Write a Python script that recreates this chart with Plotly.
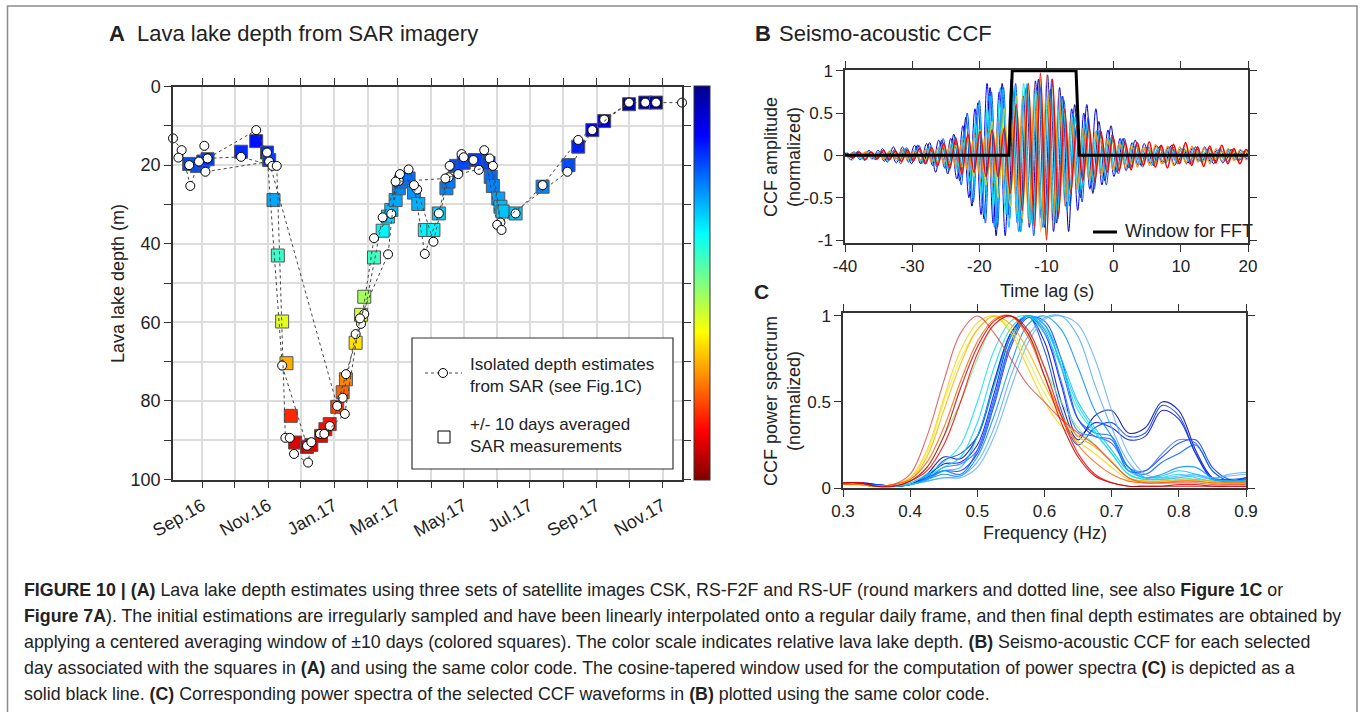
import numpy as np
import plotly.graph_objects as go

W, H = 1360, 712
def px(x): return x / W
def py(y): return 1 - y / H

FONT = "Liberation Sans, Arial, Helvetica, sans-serif"
INK = "#222222"
AX = "#333333"

# ---------------- Panel A data: SAR lava lake depth ----------------
csk_dates = ["2016-08-05","2016-08-13","2016-08-21","2016-09-03","2016-09-06","2016-10-21","2016-10-31",
             "2016-11-14","2016-12-07","2016-12-19","2016-12-28","2017-01-09","2017-01-21","2017-01-29",
             "2017-02-15","2017-03-02","2017-03-11","2017-03-19","2017-04-03","2017-04-17","2017-04-29",
             "2017-05-15","2017-05-25","2017-06-04","2017-06-18","2017-07-13","2017-08-15","2017-09-08",
             "2017-10-01","2017-10-16","2017-10-26","2017-11-19"]
csk_depth = [13.2,16.2,25.3,15.1,18.3,11.1,16.8,71.0,91.4,88.4,86.4,79.2,63.0,57.9,33.3,24.0,21.1,26.2,
             39.5,23.1,17.2,21.2,18.3,34.6,32.3,25.1,13.6,8.4,4.1,4.1,4.1,4.1]

f2f_dates = ["2016-08-10","2016-08-20","2016-08-29","2016-09-04","2016-11-02","2017-01-04","2017-01-12",
             "2017-01-26","2017-02-07","2017-02-23","2017-03-03","2017-03-16","2017-03-26","2017-04-08",
             "2017-04-18","2017-05-01","2017-05-10","2017-05-20","2017-06-01","2017-08-05","2017-08-28",
             "2017-10-01"]
f2f_depth = [18.1,20.0,19.1,21.7,19.1,81.3,73.2,60.4,38.6,32.4,22.3,25.1,42.6,32.3,20.2,18.0,18.7,16.2,
             35.2,21.7,11.1,4.1]

uf_dates = ["2016-09-06","2016-10-07","2016-11-05","2016-11-09","2016-11-17","2016-11-21","2016-11-25",
            "2016-12-08","2016-12-11","2016-12-23","2017-01-11","2017-01-25","2017-02-20","2017-02-27",
            "2017-04-14","2017-04-26","2017-05-28","2017-06-05"]
uf_depth = [18.3,17.9,20.2,20.2,89.4,89.4,93.5,95.7,90.5,88.4,83.3,59.0,42.7,24.2,23.4,22.3,20.2,36.5]

sq_dates = ["2016-08-20","2016-08-27","2016-09-02","2016-09-06","2016-10-07","2016-10-21","2016-10-31",
            "2016-11-02","2016-11-06","2016-11-10","2016-11-14","2016-11-18","2016-11-22","2016-11-26",
            "2016-12-07","2016-12-11","2016-12-20","2016-12-24","2016-12-28","2017-01-04","2017-01-09",
            "2017-01-12","2017-01-21","2017-01-26","2017-01-29","2017-02-07","2017-02-15","2017-02-20",
            "2017-02-23","2017-02-27","2017-03-02","2017-03-04","2017-03-11","2017-03-16","2017-03-20",
            "2017-03-26","2017-04-03","2017-04-08","2017-04-15","2017-04-17","2017-04-24","2017-05-01",
            "2017-05-11","2017-05-17","2017-05-24","2017-05-26","2017-05-28","2017-06-02","2017-06-04",
            "2017-06-06","2017-06-18","2017-07-13","2017-08-06","2017-08-15","2017-08-28","2017-09-08",
            "2017-10-01","2017-10-16","2017-10-26"]
sq_depth = [19.7,20.2,19.1,18.5,16.6,13.9,16.8,18.7,28.9,43.0,59.8,70.4,83.8,90.6,91.7,91.2,88.9,87.2,
            85.9,81.5,77.8,74.5,65.2,58.1,53.5,43.5,36.7,33.1,31.4,28.9,25.9,24.2,23.4,27.0,29.9,36.5,
            36.5,32.3,25.9,24.2,20.2,19.4,18.7,18.7,19.5,23.0,25.3,28.5,30.6,31.8,32.3,25.5,20.0,15.3,
            11.1,8.8,4.5,4.1,4.1]

month_ticks = ["2016-09-01","2016-10-01","2016-11-01","2016-12-01","2017-01-01","2017-02-01","2017-03-01",
               "2017-04-01","2017-05-01","2017-06-01","2017-07-01","2017-08-01","2017-09-01","2017-10-01",
               "2017-11-01"]
month_labels = ["Sep.16","","Nov.16","","Jan.17","","Mar.17","","May.17","","Jul.17","","Sep.17","","Nov.17"]
depth_ticks = [0,10,20,30,40,50,60,70,80,90,100]
depth_labels = ["0","","20","","40","","60","","80","","100"]

# ---------------- Panel B data: CCF waveforms (values at successive extrema) ----------------
ccf_lag = np.arange(-40.0, 20.4, 0.9)
ccf_darkblue = [0.03,-0.05,0.04,-0.03,0.06,-0.05,0.05,-0.08,0.1,-0.06,0.08,-0.1,0.12,-0.08,0.15,-0.2,0.18,-0.22,0.25,-0.3,
                0.45,-0.6,0.62,-0.75,0.8,-0.95,0.85,-0.7,0.75,-0.9,0.8,-0.7,0.9,-0.85,0.78,-0.8,0.7,-0.9,0.6,-0.5,
                0.6,-0.45,0.4,-0.3,0.35,-0.2,0.2,-0.15,0.18,-0.12,0.1,-0.12,0.1,-0.08,0.12,-0.1,0.08,-0.1,0.1,-0.08,
                0.06,-0.1,0.08,-0.05,0.07,-0.06,0.05,-0.04]
ccf_blue = [-0.02,0.04,-0.05,0.03,-0.04,0.06,-0.07,0.05,-0.09,0.1,-0.08,0.12,-0.1,0.14,-0.12,0.18,-0.15,0.2,-0.28,0.35,
            -0.5,0.55,-0.7,0.85,-0.8,0.75,-0.95,0.9,-0.8,0.7,-0.85,0.88,-0.75,0.95,-0.9,0.8,-0.6,0.55,-0.65,0.5,
            -0.4,0.55,-0.35,0.3,-0.25,0.2,-0.18,0.15,-0.12,0.14,-0.1,0.12,-0.09,0.1,-0.12,0.08,-0.1,0.09,-0.07,0.1,
            -0.08,0.06,-0.09,0.07,-0.05,0.06,-0.04,0.05]
ccf_midblue = [0.02,-0.03,0.05,-0.06,0.04,-0.05,0.08,-0.06,0.07,-0.1,0.09,-0.08,0.12,-0.1,0.1,-0.14,0.2,-0.18,0.22,-0.35,
               0.5,-0.55,0.65,-0.8,0.75,-0.85,0.8,-0.75,0.85,-0.8,0.7,-0.95,0.85,-0.7,0.9,-0.75,0.65,-0.6,0.5,-0.55,
               0.45,-0.4,0.3,-0.35,0.25,-0.22,0.2,-0.15,0.12,-0.14,0.1,-0.1,0.12,-0.08,0.1,-0.09,0.07,-0.1,0.08,-0.06,
               0.09,-0.07,0.06,-0.08,0.05,-0.06,0.04,-0.05]
ccf_lightblue = [-0.03,0.02,-0.04,0.05,-0.03,0.04,-0.06,0.05,-0.05,0.08,-0.07,0.06,-0.1,0.09,-0.12,0.1,-0.16,0.15,-0.2,0.28,
                 -0.42,0.48,-0.6,0.7,-0.85,0.8,-0.7,0.82,-0.9,0.75,-0.8,0.7,-0.85,0.75,-0.8,0.7,-0.65,0.5,-0.45,0.4,
                 -0.35,0.3,-0.28,0.22,-0.2,0.18,-0.15,0.12,-0.1,0.1,-0.12,0.08,-0.09,0.1,-0.07,0.08,-0.06,0.09,-0.07,0.05,
                 -0.08,0.06,-0.05,0.07,-0.04,0.05,-0.04,0.03]
ccf_sky = [0.04,-0.06,0.03,-0.05,0.05,-0.04,0.06,-0.07,0.05,-0.06,0.09,-0.07,0.08,-0.1,0.11,-0.12,0.14,-0.16,0.2,-0.25,
           0.35,-0.5,0.6,-0.72,0.7,-0.8,0.78,-0.85,0.8,-0.9,0.85,-0.8,0.75,-0.82,0.7,-0.65,0.55,-0.5,0.45,-0.4,
           0.35,-0.3,0.25,-0.22,0.2,-0.16,0.14,-0.12,0.13,-0.1,0.09,-0.11,0.08,-0.09,0.07,-0.1,0.08,-0.06,0.07,-0.08,
           0.05,-0.06,0.07,-0.05,0.06,-0.04,0.05,-0.03]
ccf_cyan = [-0.02,0.03,-0.04,0.02,-0.05,0.04,-0.03,0.05,-0.06,0.04,-0.05,0.07,-0.06,0.08,-0.07,0.1,-0.12,0.14,-0.16,0.2,
            -0.3,0.38,-0.45,0.55,-0.6,0.65,-0.7,0.75,-0.8,0.85,-0.8,0.78,-0.75,0.7,-0.72,0.6,-0.55,0.45,-0.4,0.35,
            -0.3,0.25,-0.22,0.2,-0.15,0.14,-0.12,0.1,-0.1,0.09,-0.08,0.1,-0.07,0.08,-0.06,0.07,-0.08,0.06,-0.05,0.07,
            -0.06,0.05,-0.04,0.06,-0.05,0.04,-0.03,0.04]
ccf_yellow = [0.02,-0.02,0.03,-0.03,0.02,-0.04,0.03,-0.03,0.04,-0.05,0.04,-0.05,0.06,-0.05,0.07,-0.08,0.1,-0.1,0.12,-0.14,
              0.2,-0.25,0.3,-0.35,0.4,-0.5,0.55,-0.6,0.7,-0.75,0.8,-0.85,0.9,-0.95,0.8,-0.65,0.5,-0.4,0.35,-0.3,
              0.28,-0.25,0.2,-0.18,0.15,-0.14,0.12,-0.1,0.1,-0.09,0.08,-0.1,0.09,-0.07,0.08,-0.06,0.07,-0.06,0.05,-0.07,
              0.06,-0.05,0.04,-0.05,0.04,-0.03,0.04,-0.03]
ccf_orange = [-0.02,0.03,-0.02,0.04,-0.03,0.03,-0.04,0.05,-0.04,0.06,-0.05,0.05,-0.06,0.07,-0.08,0.09,-0.1,0.12,-0.15,0.18,
              -0.22,0.25,-0.3,0.3,-0.35,0.4,-0.45,0.55,-0.65,0.7,-0.8,0.85,-0.9,0.95,-0.85,0.75,-0.6,0.45,-0.4,0.32,
              -0.3,0.28,-0.25,0.2,-0.18,0.15,-0.15,0.12,-0.14,0.1,-0.12,0.13,-0.1,0.11,-0.12,0.1,-0.09,0.11,-0.08,0.09,
              -0.1,0.08,-0.07,0.08,-0.06,0.07,-0.05,0.06]
ccf_red = [0.03,-0.03,0.04,-0.05,0.04,-0.04,0.06,-0.05,0.05,-0.07,0.06,-0.06,0.08,-0.1,0.09,-0.12,0.14,-0.15,0.2,-0.22,
           0.25,-0.2,0.28,-0.25,0.3,-0.25,0.32,-0.45,0.6,-0.65,0.85,-0.85,0.97,-1.0,0.9,-0.7,0.55,-0.45,0.35,-0.3,
           0.35,-0.3,0.28,-0.2,0.22,-0.18,0.15,-0.17,0.15,-0.12,0.16,-0.14,0.12,-0.15,0.13,-0.1,0.15,-0.12,0.1,-0.13,
           0.11,-0.09,0.12,-0.1,0.08,-0.1,0.07,-0.06]
ccf_series = [ccf_darkblue, ccf_blue, ccf_midblue, ccf_lightblue, ccf_sky, ccf_cyan, ccf_yellow, ccf_orange, ccf_red]
ccf_shift = [0.0, 0.45, 0.2, 0.65, 0.1, 0.5, 0.3, 0.35, 0.3]
ccf_colors = ["#0000a0", "#0000ff", "#0050ff", "#0096ff", "#00c8ff", "#20e8e8", "#e0d800", "#ff8c00", "#ff0000"]
ccf_widths = [1.0, 1.0, 1.0, 1.0, 1.0, 1.0, 1.0, 1.2, 1.6]

window_lag = [-40, -15.6, -15.1, -5.6, -5.1, 20]
window_val = [0, 0, 1, 1, 0, 0]
lag_ticks = [-40, -30, -20, -10, 0, 10, 20]
lag_labels = ["-40", "-30", "-20", "-10", "0", "10", "20"]

# ---------------- Panel C data: normalized power spectra ----------------
freq = [0.300,0.325,0.350,0.375,0.400,0.425,0.450,0.475,0.500,0.525,0.550,0.575,0.600,
        0.625,0.650,0.675,0.700,0.725,0.750,0.775,0.800,0.825,0.850,0.875,0.900]
spec_1 = [0.02,0.03,0.02,0.01,0.02,0.08,0.18,0.17,0.30,0.62,0.90,1.00,0.85,0.50,0.28,0.42,0.45,0.32,0.35,0.50,0.45,0.22,0.06,0.04,0.06]
spec_2 = [0.02,0.03,0.02,0.01,0.02,0.07,0.14,0.15,0.25,0.55,0.88,1.00,0.90,0.60,0.30,0.38,0.35,0.28,0.30,0.45,0.40,0.20,0.05,0.04,0.05]
spec_3 = [0.02,0.02,0.01,0.01,0.02,0.06,0.16,0.20,0.30,0.60,0.90,1.00,0.80,0.45,0.25,0.35,0.38,0.30,0.32,0.48,0.42,0.20,0.06,0.05,0.06]
spec_4 = [0.02,0.02,0.02,0.01,0.02,0.05,0.10,0.10,0.20,0.48,0.82,0.99,0.97,0.75,0.40,0.30,0.28,0.10,0.10,0.18,0.26,0.28,0.12,0.05,0.05]
spec_5 = [0.02,0.02,0.01,0.01,0.02,0.05,0.12,0.14,0.22,0.50,0.84,1.00,0.92,0.62,0.33,0.30,0.26,0.12,0.10,0.20,0.28,0.26,0.10,0.04,0.05]
spec_6 = [0.02,0.02,0.02,0.01,0.02,0.06,0.10,0.08,0.22,0.52,0.85,1.00,0.95,0.70,0.40,0.32,0.30,0.12,0.08,0.15,0.20,0.25,0.10,0.04,0.04]
spec_7 = [0.02,0.02,0.01,0.01,0.02,0.05,0.08,0.07,0.18,0.42,0.72,0.95,1.00,0.92,0.70,0.45,0.30,0.12,0.06,0.08,0.12,0.12,0.06,0.04,0.05]
spec_8 = [0.02,0.02,0.01,0.01,0.02,0.04,0.06,0.06,0.12,0.30,0.58,0.84,0.98,1.00,0.95,0.75,0.45,0.20,0.08,0.06,0.07,0.08,0.06,0.07,0.08]
spec_9 = [0.02,0.02,0.01,0.01,0.02,0.04,0.06,0.07,0.15,0.35,0.65,0.88,0.99,1.00,0.88,0.60,0.35,0.15,0.06,0.05,0.06,0.07,0.05,0.08,0.09]
spec_10 = [0.02,0.02,0.01,0.01,0.02,0.05,0.10,0.12,0.30,0.60,0.88,1.00,0.95,0.75,0.50,0.35,0.22,0.10,0.06,0.07,0.10,0.08,0.05,0.04,0.04]
spec_11 = [0.02,0.02,0.01,0.01,0.03,0.07,0.12,0.18,0.38,0.70,0.93,1.00,0.93,0.72,0.48,0.33,0.20,0.08,0.05,0.06,0.08,0.06,0.04,0.04,0.04]
spec_12 = [0.02,0.02,0.01,0.01,0.03,0.08,0.15,0.25,0.50,0.80,0.97,1.00,0.90,0.70,0.45,0.32,0.20,0.08,0.05,0.05,0.06,0.05,0.04,0.03,0.03]
spec_13 = [0.02,0.02,0.01,0.01,0.04,0.12,0.30,0.50,0.75,0.95,1.00,0.90,0.70,0.50,0.35,0.25,0.15,0.06,0.04,0.04,0.04,0.04,0.03,0.03,0.03]
spec_14 = [0.02,0.02,0.01,0.02,0.06,0.20,0.50,0.75,0.92,1.00,0.92,0.75,0.55,0.40,0.30,0.24,0.16,0.06,0.04,0.03,0.04,0.04,0.03,0.03,0.03]
spec_15 = [0.02,0.02,0.01,0.02,0.06,0.22,0.52,0.80,0.96,1.00,0.90,0.70,0.50,0.36,0.27,0.20,0.12,0.05,0.04,0.04,0.04,0.04,0.03,0.03,0.03]
spec_16 = [0.02,0.02,0.01,0.02,0.05,0.18,0.45,0.72,0.92,1.00,0.95,0.80,0.60,0.42,0.30,0.24,0.15,0.06,0.04,0.04,0.05,0.05,0.04,0.03,0.03]
spec_17 = [0.02,0.02,0.01,0.02,0.05,0.15,0.35,0.62,0.85,0.98,1.00,0.88,0.65,0.42,0.25,0.15,0.08,0.04,0.03,0.03,0.04,0.04,0.03,0.03,0.03]
spec_18 = [0.03,0.03,0.01,0.02,0.08,0.30,0.62,0.90,1.00,0.90,0.75,0.60,0.50,0.40,0.32,0.25,0.15,0.06,0.03,0.03,0.03,0.03,0.02,0.02,0.02]
spec_19 = [0.03,0.03,0.01,0.01,0.04,0.10,0.25,0.50,0.78,0.95,1.00,0.92,0.70,0.42,0.20,0.08,0.03,0.01,0.01,0.01,0.02,0.02,0.01,0.01,0.01]
spec_20 = [0.03,0.03,0.01,0.01,0.04,0.12,0.30,0.58,0.82,0.97,1.00,0.90,0.65,0.38,0.18,0.07,0.03,0.01,0.01,0.01,0.01,0.01,0.01,0.01,0.01]
spec_series = [spec_1, spec_2, spec_3, spec_4, spec_5, spec_6, spec_7, spec_8, spec_9, spec_10,
               spec_11, spec_12, spec_13, spec_14, spec_15, spec_16, spec_17, spec_18, spec_19, spec_20]
spec_colors = ["#0000b0", "#0000ff", "#0040e0", "#1030ff", "#3070ff", "#0060ff", "#0090ff", "#60b0ff",
               "#50a8ff", "#00c0ff", "#00d8ff", "#10e0f0", "#70f0a0", "#e8f040", "#ffd000", "#ffb000",
               "#ff6000", "#e05050", "#ff0000", "#c80000"]

# jet colour map (reversed so that shallow = dark blue at the top of the colour bar)
jet_r = [[0.0, "rgb(128,0,0)"], [0.125, "rgb(255,0,0)"], [0.375, "rgb(255,255,0)"],
         [0.625, "rgb(0,255,255)"], [0.875, "rgb(0,0,255)"], [1.0, "rgb(0,0,143)"]]

fig = go.Figure()

# ---- Panel A traces ----
fig.add_trace(go.Scatter(
    x=sq_dates, y=sq_depth, mode="markers", xaxis="x", yaxis="y",
    marker=dict(symbol="square", size=13, color=[100 - d for d in sq_depth], cmin=0, cmax=100,
                colorscale=jet_r, line=dict(color="#555555", width=1), showscale=True,
                colorbar=dict(x=px(694), xanchor="left", y=py(86), yanchor="top", len=394 / H,
                              lenmode="fraction", thickness=16, thicknessmode="pixels",
                              outlinewidth=1, outlinecolor=AX, showticklabels=False, ticks="",
                              xpad=0, ypad=0)),
    showlegend=False))
for d, v in [(csk_dates, csk_depth), (f2f_dates, f2f_depth), (uf_dates, uf_depth)]:
    fig.add_trace(go.Scatter(
        x=d, y=v, mode="lines+markers", xaxis="x", yaxis="y", cliponaxis=False,
        line=dict(color="#444444", width=1, dash="dot"),
        marker=dict(symbol="circle", size=9, color="white", line=dict(color="black", width=1)),
        showlegend=False))

# ---- Panel B traces ----
for vals, sh, col, lw in zip(ccf_series, ccf_shift, ccf_colors, ccf_widths):
    fig.add_trace(go.Scatter(
        x=ccf_lag[:len(vals)] + sh, y=vals, mode="lines", xaxis="x2", yaxis="y2",
        line=dict(color=col, width=lw, shape="spline", smoothing=1.0), showlegend=False))
fig.add_trace(go.Scatter(x=window_lag, y=window_val, mode="lines", xaxis="x2", yaxis="y2",
                         line=dict(color="black", width=3), showlegend=False))

# ---- Panel C traces ----
for vals, col in zip(spec_series, spec_colors):
    fig.add_trace(go.Scatter(
        x=freq, y=vals, mode="lines", xaxis="x3", yaxis="y3", opacity=0.85,
        line=dict(color=col, width=1.1, shape="spline", smoothing=1.0), showlegend=False))

axis_common = dict(showline=True, linecolor=AX, linewidth=1.5, mirror="allticks", ticks="outside",
                   ticklen=7, tickwidth=1.3, tickcolor=AX, zeroline=False, automargin=False)
font_a = dict(family=FONT, size=18, color=INK)
font_bc = dict(family=FONT, size=17, color=INK)

fig.update_layout(
    template="none",
    width=W, height=H, margin=dict(l=0, r=0, t=0, b=0, pad=0, autoexpand=False),
    paper_bgcolor="white", plot_bgcolor="white",
    font=dict(family=FONT, color=INK),
    xaxis=dict(domain=[px(173), px(682)], anchor="y", type="date",
               range=["2016-08-05", "2017-11-19"], tickvals=month_ticks, ticktext=month_labels,
               tickangle=-30, showgrid=True, gridcolor="#dddddd", gridwidth=1.5, tickfont=font_a,
               **axis_common),
    yaxis=dict(domain=[py(479.5), py(86.5)], anchor="x", range=[100, 0], tickvals=depth_ticks,
               ticktext=depth_labels, showgrid=True, gridcolor="#dddddd", gridwidth=1.5, tickfont=font_a,
               **axis_common),
    xaxis2=dict(domain=[px(845), px(1248)], anchor="y2", range=[-40, 20],
                tickvals=lag_ticks, ticktext=lag_labels, showgrid=False, tickfont=font_bc, **axis_common),
    yaxis2=dict(domain=[py(243), py(70)], anchor="x2", range=[-1.035, 1.008],
                tickvals=[-1, -0.5, 0, 0.5, 1], ticktext=["-1", "-0.5", "0", "0.5", "1"],
                showgrid=False, tickfont=font_bc, **axis_common),
    xaxis3=dict(domain=[px(843), px(1246)], anchor="y3", range=[0.3, 0.9],
                tickvals=[0.3, 0.4, 0.5, 0.6, 0.7, 0.8, 0.9],
                ticktext=["0.3", "0.4", "0.5", "0.6", "0.7", "0.8", "0.9"], showgrid=False,
                tickfont=font_bc, **axis_common),
    yaxis3=dict(domain=[py(488), py(313)], anchor="x3", range=[0, 1.017],
                tickvals=[0, 0.5, 1], ticktext=["0", "0.5", "1"], showgrid=False, tickfont=font_bc,
                **axis_common),
)

shapes = []
# figure border
shapes.append(dict(type="rect", xref="paper", yref="paper", x0=px(7.5), x1=px(1357), y0=-0.05, y1=py(6),
                   line=dict(color="#8c8c8c", width=1.5), fillcolor="rgba(0,0,0,0)", layer="above"))
# legend box panel A
shapes.append(dict(type="rect", xref="paper", yref="paper", x0=px(412), x1=px(673), y0=py(469), y1=py(338),
                   line=dict(color=AX, width=1.2), fillcolor="white", layer="above"))
shapes.append(dict(type="line", xref="paper", yref="paper", x0=px(425), x1=px(462), y0=py(373), y1=py(373),
                   line=dict(color="#444444", width=1, dash="dot"), layer="above"))
shapes.append(dict(type="circle", xref="paper", yref="paper", x0=px(438.5), x1=px(447.5), y0=py(377.5),
                   y1=py(368.5), line=dict(color="black", width=1), fillcolor="white", layer="above"))
shapes.append(dict(type="rect", xref="paper", yref="paper", x0=px(438), x1=px(450), y0=py(443), y1=py(431),
                   line=dict(color="black", width=1), fillcolor="white", layer="above"))
# legend panel B
shapes.append(dict(type="line", xref="paper", yref="paper", x0=px(1093), x1=px(1117), y0=py(232), y1=py(232),
                   line=dict(color="black", width=3), layer="above"))
fig.update_layout(shapes=shapes)

ann = []
def A(text, x, y, size=18, xanchor="left", angle=0, **kw):
    ann.append(dict(text=text, x=px(x), y=py(y), xref="paper", yref="paper", showarrow=False,
                    xanchor=xanchor, yanchor="middle", textangle=angle,
                    font=dict(family=FONT, size=size, color=INK), **kw))

A("<b>A</b>", 107, 33, size=22)
A("Lava lake depth from SAR imagery", 135, 33, size=22)
A("<b>B</b>", 753, 33, size=22)
A("Seismo-acoustic CCF", 777, 33, size=22)
A("<b>C</b>", 752, 291, size=21)
A("Lava lake depth (m)", 118, 284, xanchor="center", angle=-90)
A("CCF amplitude<br>(normalized)", 782, 157, xanchor="center", angle=-90)
A("CCF power spectrum<br>(normalized)", 782, 401, xanchor="center", angle=-90)
A("Time lag (s)", 1047, 291, xanchor="center")
A("Frequency (Hz)", 1045, 533, xanchor="center")
A("Window for FFT", 1123, 231)
A("Isolated depth estimates<br>from SAR (see Fig.1C)", 468, 376, size=17, align="left")
A("+/- 10 days averaged<br>SAR measurements", 468, 435, size=17, align="left")

caption_lines = [
    "<b>FIGURE 10 | (A)</b> Lava lake depth estimates using three sets of satellite images CSK, RS-F2F and RS-UF (round markers and dotted line, see also <b>Figure 1C</b> or",
    "<b>Figure 7A</b>). The initial estimations are irregularly sampled and have been linearly interpolated onto a regular daily frame, and then final depth estimates are obtained by",
    "applying a centered averaging window of ±10 days (colored squares). The color scale indicates relative lava lake depth. <b>(B)</b> Seismo-acoustic CCF for each selected",
    "day associated with the squares in <b>(A)</b> and using the same color code. The cosine-tapered window used for the computation of power spectra <b>(C)</b> is depicted as a",
    "solid black line. <b>(C)</b> Corresponding power spectra of the selected CCF waveforms in <b>(B)</b> plotted using the same color code.",
]
for i, line in enumerate(caption_lines):
    A(line, 22, 590 + 26 * i, size=17.8)

fig.update_layout(annotations=ann)
fig.write_html("out.html")
